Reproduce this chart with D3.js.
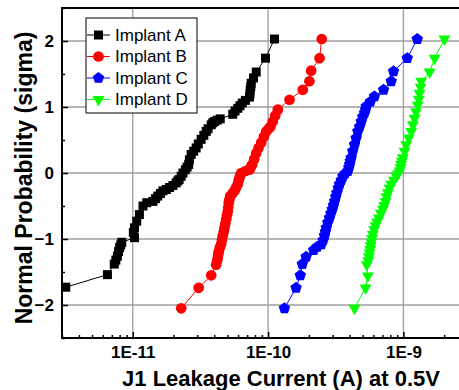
<!DOCTYPE html>
<html>
<head>
<meta charset="utf-8">
<script src="https://cdnjs.cloudflare.com/ajax/libs/d3/7.8.5/d3.min.js"></script>
<style>
body{margin:0;background:#fff;}
svg{display:block;font-family:"Liberation Sans",Arial,sans-serif;}
</style>
</head>
<body>
<div id="chart"></div>
<script>
// series: [leakage current (A), sigma]
var seriesNames = ["Implant A","Implant B","Implant C","Implant D"];
var seriesColors = ["#000000","#ff0000","#0000ff","#00ff00"];

var implantA = [[3.2e-12,-1.73],[6.5e-12,-1.54],[7.3e-12,-1.38],[7.5e-12,-1.32],[7.7e-12,-1.26],[7.85e-12,-1.19],
 [8.0e-12,-1.13],[8.15e-12,-1.09],[8.3e-12,-1.05],
 [1.03e-11,-0.98],[1.01e-11,-0.90],[1.03e-11,-0.83],[1.07e-11,-0.73],[1.12e-11,-0.63],[1.19e-11,-0.50],
 [1.27e-11,-0.45],[1.41e-11,-0.43],[1.47e-11,-0.39],[1.53e-11,-0.35],[1.60e-11,-0.31],[1.67e-11,-0.27],
 [1.77e-11,-0.25],[1.87e-11,-0.22],[1.98e-11,-0.19],[2.09e-11,-0.15],[2.15e-11,-0.12],
 [2.2e-11,-0.10],[2.28e-11,-0.05],[2.35e-11,0.0],[2.45e-11,0.05],[2.52e-11,0.09],[2.59e-11,0.13],[2.62e-11,0.20],
 [2.70e-11,0.28],[2.82e-11,0.33],[2.94e-11,0.38],
 [3.05e-11,0.44],[3.20e-11,0.51],[3.35e-11,0.57],[3.49e-11,0.63],[3.6e-11,0.67],[3.80e-11,0.73],[3.9e-11,0.76],
 [4.02e-11,0.78],[4.2e-11,0.80],[4.43e-11,0.82],
 [5.48e-11,0.89],[5.7e-11,0.94],[5.97e-11,0.98],[6.2e-11,1.02],[6.44e-11,1.06],[6.8e-11,1.10],[7.29e-11,1.15],
 [7.35e-11,1.20],[7.38e-11,1.26],[7.45e-11,1.31],[7.50e-11,1.36],[7.8e-11,1.44],
 [8.17e-11,1.53],[9.57e-11,1.74],[1.115e-10,2.03]];

var implantB = [[2.28e-11,-2.05],[3.07e-11,-1.74],[3.80e-11,-1.55],[4.13e-11,-1.39],[4.2e-11,-1.33],[4.25e-11,-1.28],
 [4.28e-11,-1.23],[4.32e-11,-1.19],[4.4e-11,-1.13],[4.50e-11,-1.08],[4.56e-11,-1.01],[4.62e-11,-0.95],[4.7e-11,-0.89],
 [4.76e-11,-0.83],[4.83e-11,-0.77],[4.90e-11,-0.70],[4.97e-11,-0.64],[5.04e-11,-0.58],[5.08e-11,-0.52],[5.12e-11,-0.45],
 [5.18e-11,-0.40],[5.25e-11,-0.35],[5.45e-11,-0.31],[5.65e-11,-0.27],[5.8e-11,-0.22],[5.97e-11,-0.17],[6.05e-11,-0.12],
 [6.15e-11,-0.07],[6.25e-11,-0.03],[6.33e-11,0.0],[6.8e-11,0.03],[7.29e-11,0.05],[7.45e-11,0.09],
 [7.63e-11,0.13],[7.9e-11,0.21],[8.17e-11,0.30],[8.5e-11,0.38],[8.89e-11,0.46],[9.3e-11,0.55],[9.68e-11,0.63],
 [1.01e-10,0.67],[1.04e-10,0.70],[1.083e-10,0.78],[1.13e-10,0.87],[1.18e-10,0.96],
 [1.44e-10,1.11],[1.805e-10,1.26],[2.02e-10,1.39],[2.08e-10,1.55],[2.40e-10,1.74],[2.49e-10,2.03]];

var implantC = [[1.32e-10,-2.05],[1.61e-10,-1.74],[1.73e-10,-1.55],[1.79e-10,-1.38],[1.91e-10,-1.27],[2.17e-10,-1.17],
 [2.3e-10,-1.12],[2.47e-10,-1.08],[2.55e-10,-1.02],[2.61e-10,-0.95],[2.65e-10,-0.89],[2.69e-10,-0.83],[2.76e-10,-0.75],
 [2.84e-10,-0.68],[2.91e-10,-0.61],[2.98e-10,-0.55],[3.04e-10,-0.49],[3.10e-10,-0.43],[3.16e-10,-0.36],
 [3.22e-10,-0.30],[3.3e-10,-0.23],[3.37e-10,-0.17],[3.47e-10,-0.11],[3.57e-10,-0.05],[3.7e-10,-0.01],[3.88e-10,0.03],
 [3.95e-10,0.08],[4.0e-10,0.13],[4.05e-10,0.18],[4.11e-10,0.23],[4.22e-10,0.33],[4.35e-10,0.43],[4.47e-10,0.53],
 [4.60e-10,0.63],[4.74e-10,0.70],[4.88e-10,0.78],[5.0e-10,0.85],[5.16e-10,0.91],[5.25e-10,0.96],[5.31e-10,1.01],
 [5.7e-10,1.08],[6.11e-10,1.16],[7.13e-10,1.26],
 [8.12e-10,1.39],[8.45e-10,1.54],[1.067e-9,1.74],[1.265e-9,2.03]];

var implantD = [[4.35e-10,-2.05],[5.25e-10,-1.74],[5.46e-10,-1.56],[5.36e-10,-1.39],[5.5e-10,-1.33],[5.55e-10,-1.27],
 [5.62e-10,-1.21],[5.68e-10,-1.16],[5.73e-10,-1.10],[5.78e-10,-1.05],[5.86e-10,-0.99],[5.94e-10,-0.93],[6.08e-10,-0.86],
 [6.22e-10,-0.80],[6.4e-10,-0.74],[6.58e-10,-0.68],[6.8e-10,-0.61],[7.05e-10,-0.55],[7.2e-10,-0.49],[7.38e-10,-0.43],
 [7.5e-10,-0.36],[7.67e-10,-0.30],[7.9e-10,-0.23],[8.12e-10,-0.17],[8.5e-10,-0.11],[8.85e-10,-0.05],[9.1e-10,-0.01],
 [9.36e-10,0.03],[9.5e-10,0.08],[9.6e-10,0.13],[9.75e-10,0.18],[9.90e-10,0.23],[1.02e-9,0.33],[1.049e-9,0.43],
 [1.095e-9,0.53],[1.142e-9,0.63],[1.175e-9,0.73],[1.208e-9,0.83],[1.24e-9,0.93],[1.278e-9,1.03],[1.30e-9,1.12],
 [1.315e-9,1.21],[1.34e-9,1.30],[1.354e-9,1.39],
 [1.56e-9,1.53],[1.70e-9,1.74],[2.01e-9,2.03]];

var xMajorTicks = [1e-11,1e-10,1e-9];
var xTickLabels = ["1E-11","1E-10","1E-9"];
var yMajorTicks = [-2,-1,0,1,2];
var yMinorTicks = [-2.5,-1.5,-0.5,0.5,1.5,2.5];
var xTitle = "J1 Leakage Current (A) at 0.5V";
var yTitle = "Normal Probability (sigma)";

var allSeries = [implantA,implantB,implantC,implantD];

var width = 459, height = 390;
var plotLeft = 62, plotTop = 8, plotBottom = 338;

var x = d3.scaleLog().domain([3e-12,3e-9]).range([plotLeft,468]);
var y = d3.scaleLinear().domain([-2.5,2.5]).range([plotBottom,plotTop]);

var svg = d3.select('#chart').append('svg')
 .attr('width',width)
 .attr('height',height);

// grid
svg.append('g').selectAll('line').data(xMajorTicks).enter().append('line')
 .attr('x1',function(d){return x(d);}).attr('x2',function(d){return x(d);})
 .attr('y1',plotTop).attr('y2',plotBottom)
 .attr('stroke','#9e9e9e').attr('stroke-width',1.3);
svg.append('g').selectAll('line').data(yMajorTicks).enter().append('line')
 .attr('x1',plotLeft).attr('x2',width)
 .attr('y1',function(d){return y(d);}).attr('y2',function(d){return y(d);})
 .attr('stroke','#9e9e9e').attr('stroke-width',1.3);

// minor x ticks 2..9 of each decade
var xMinor = [];
for(var e=-12;e<=-9;e++){
 for(var m=2;m<=9;m++){
  var v = m*Math.pow(10,e);
  if(v>=3e-12 && v<=3e-9) xMinor.push(v);
 }
}

var xAxis = d3.axisBottom(x).tickValues(xMajorTicks)
 .tickFormat(function(d,i){return xTickLabels[i];})
 .tickSizeInner(-6).tickSizeOuter(0).tickPadding(8);
var gx = svg.append('g').attr('transform','translate(0,'+plotBottom+')').call(xAxis);
gx.select('.domain').remove();
gx.selectAll('.tick line').attr('stroke-width',1.5);
gx.selectAll('text').attr('font-size',17).attr('font-weight','bold').attr('fill','#000');

var xAxisMinor = d3.axisBottom(x).tickValues(xMinor).tickFormat('').tickSizeInner(-3).tickSizeOuter(0);
var gxm = svg.append('g').attr('transform','translate(0,'+plotBottom+')').call(xAxisMinor);
gxm.select('.domain').remove();
gxm.selectAll('.tick line').attr('stroke-width',1.5);

var yAxis = d3.axisLeft(y).tickValues(yMajorTicks).tickFormat(d3.format('d'))
 .tickSizeInner(-6).tickSizeOuter(0).tickPadding(8);
var gy = svg.append('g').attr('transform','translate('+plotLeft+',0)').call(yAxis);
gy.select('.domain').remove();
gy.selectAll('.tick line').attr('stroke-width',1.5);
gy.selectAll('text').attr('font-size',17).attr('font-weight','bold').attr('fill','#000');

var yAxisMinor = d3.axisLeft(y).tickValues(yMinorTicks).tickFormat('').tickSizeInner(-3).tickSizeOuter(0);
var gym = svg.append('g').attr('transform','translate('+plotLeft+',0)').call(yAxisMinor);
gym.select('.domain').remove();
gym.selectAll('.tick line').attr('stroke-width',1.5);

// frame (left, bottom, top; right side is cut off)
svg.append('line').attr('x1',plotLeft).attr('x2',plotLeft).attr('y1',plotTop-1).attr('y2',plotBottom+1)
 .attr('stroke','#000').attr('stroke-width',2);
svg.append('line').attr('x1',plotLeft-1).attr('x2',width).attr('y1',plotBottom).attr('y2',plotBottom)
 .attr('stroke','#000').attr('stroke-width',2);
svg.append('line').attr('x1',plotLeft-1).attr('x2',width).attr('y1',plotTop).attr('y2',plotTop)
 .attr('stroke','#000').attr('stroke-width',2);

// markers
var pentagon = {
 draw: function(context,size){
  var r = Math.sqrt(size/2.378);
  for(var k=0;k<5;k++){
   var a = -Math.PI/2 + k*2*Math.PI/5;
   if(k==0) context.moveTo(r*Math.cos(a),r*Math.sin(a));
   else context.lineTo(r*Math.cos(a),r*Math.sin(a));
  }
  context.closePath();
 }
};
var symbolTypes = [d3.symbolSquare,d3.symbolCircle,pentagon,d3.symbolTriangle];
var symbolSizes = [81,90,86,62];
var symbolRot = [0,0,0,180];

var line = d3.line()
 .x(function(d){return x(d[0]);})
 .y(function(d){return y(d[1]);});

allSeries.forEach(function(data,i){
 data = data.slice().sort(function(a,b){return a[1]-b[1];});
 var g = svg.append('g');
 g.append('path').datum(data)
  .attr('d',line)
  .attr('fill','none')
  .attr('stroke',seriesColors[i])
  .attr('stroke-width',1);
 g.selectAll('path.pt').data(data).enter().append('path')
  .attr('class','pt')
  .attr('d',d3.symbol().type(symbolTypes[i]).size(symbolSizes[i]))
  .attr('transform',function(d){return 'translate('+x(d[0])+','+y(d[1])+') rotate('+symbolRot[i]+')';})
  .attr('fill',seriesColors[i]);
});

// legend
var legend = svg.append('g');
legend.append('rect').attr('x',86).attr('y',18).attr('width',111).attr('height',95)
 .attr('fill','#fff').attr('stroke','#000').attr('stroke-width',1);
seriesNames.forEach(function(name,i){
 var ly = 35 + i*21.5;
 legend.append('line').attr('x1',87).attr('x2',110).attr('y1',ly).attr('y2',ly)
  .attr('stroke',seriesColors[i]).attr('stroke-width',1);
 legend.append('path')
  .attr('d',d3.symbol().type(symbolTypes[i]).size(symbolSizes[i]))
  .attr('transform','translate(98.5,'+ly+') rotate('+symbolRot[i]+')')
  .attr('fill',seriesColors[i]);
 legend.append('text').attr('x',115).attr('y',ly).attr('dy','0.35em')
  .attr('font-size',17).text(name);
});

// axis titles
svg.append('text').attr('x',281).attr('y',386)
 .attr('text-anchor','middle').attr('font-size',22).attr('font-weight','bold')
 .text(xTitle);
svg.append('text').attr('transform','translate(32,178) rotate(-90)')
 .attr('text-anchor','middle').attr('font-size',23).attr('font-weight','bold')
 .text(yTitle);
</script>
</body>
</html>
